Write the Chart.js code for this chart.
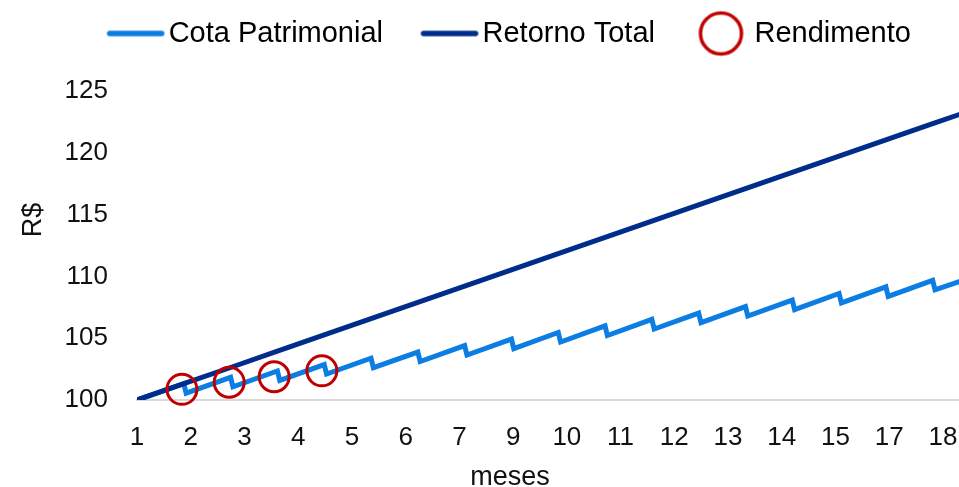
<!DOCTYPE html>
<html lang="pt-BR">
<head>
<meta charset="utf-8">
<title>Cota Patrimonial x Retorno Total</title>
<script src="https://cdn.jsdelivr.net/npm/chart.js@4/dist/chart.umd.min.js"></script>
<style>
  html, body { margin: 0; padding: 0; background: #fff; overflow: hidden; }
  #frame { width: 959px; height: 487px; overflow: hidden; position: relative; }
  #box { width: 990px; height: 487px; position: relative; }
</style>
</head>
<body>
<div id="frame"><div id="box"><canvas id="chart"></canvas></div></div>
<script>
// ── Data ──────────────────────────────────────────────────────────────────
// x values are months since the start; tick labels come from Excel's skipped categories

const tickLabels = ["1", "2", "3", "4", "5", "6", "7", "9", "10", "11", "12", "13", "14", "15", "17", "18"];
const tickStep = 1.148; // months between two shown labels

const retornoMeses = [0, 1, 2, 3, 4, 5, 6, 7, 8, 9, 10, 11, 12, 13, 14, 15, 16, 17, 17.6];
const retornoValores = [100.00, 101.32, 102.63, 103.95, 105.26, 106.58, 107.89, 109.21, 110.52, 111.84,
                        113.15, 114.47, 115.78, 117.10, 118.41, 119.73, 121.04, 122.36, 123.14];

const cotaMeses = [0, 1, 1.05, 2, 2.05, 3, 3.05, 4, 4.05, 5, 5.05, 6, 6.05, 7, 7.05, 8, 8.05, 9, 9.05,
                   10, 10.05, 11, 11.05, 12, 12.05, 13, 13.05, 14, 14.05, 15, 15.05, 16, 16.05, 17, 17.05, 17.6];
const cotaValores = [100.00, 101.32, 100.55, 101.83, 101.07, 102.35, 101.58, 102.87, 102.10, 103.38, 102.62,
                     103.88, 103.11, 104.40, 103.64, 104.93, 104.16, 105.46, 104.69, 106.00, 105.22,
                     106.52, 105.74, 107.03, 106.26, 107.56, 106.79, 108.08, 107.31, 108.62, 107.85,
                     109.15, 108.38, 109.68, 108.91, 109.62];

const rendMeses = [0.96, 1.97, 2.93, 3.95];
const rendValores = [100.86, 101.43, 101.88, 102.36];

const COR_COTA = "#0b7de3";
const COR_RETORNO = "#002c8c";
const COR_REND = "#c00000";
const FONTE = '"Liberation Sans", Arial, sans-serif';

const pts = (xs, ys) => xs.map((x, i) => ({ x, y: ys[i] }));

// ── Legend markers (drawn off-centre so text sits close to them) ─────────

function lineMarker(color) {
  const c = document.createElement("canvas");
  c.width = 100; c.height = 8;
  const g = c.getContext("2d");
  g.strokeStyle = color;
  g.lineWidth = 5.5;
  g.lineCap = "round";
  g.beginPath();
  g.moveTo(43, 4);
  g.lineTo(95, 4);
  g.stroke();
  return c;
}

function circleMarker(color) {
  const c = document.createElement("canvas");
  c.width = 100; c.height = 48;
  const g = c.getContext("2d");
  g.strokeStyle = color;
  g.lineWidth = 3.5;
  g.beginPath();
  g.arc(68.5, 24, 20.5, 0, Math.PI * 2);
  g.stroke();
  return c;
}

const markers = [lineMarker(COR_COTA), lineMarker(COR_RETORNO), circleMarker(COR_REND)];

// ── Plugins ───────────────────────────────────────────────────────────────

const legendGap = {
  id: "legendGap",
  afterInit(chart) {
    const lg = chart.legend;
    const fit = lg.fit;
    lg.fit = function () { fit.call(this); this.height += 33; };
  },
};

const axisTitles = {
  id: "axisTitles",
  afterDraw(chart) {
    const ctx = chart.ctx;
    ctx.save();
    ctx.fillStyle = "#111";
    ctx.font = "27px " + FONTE;
    ctx.textAlign = "center";
    ctx.textBaseline = "middle";
    ctx.fillText("meses", 510, 478);
    ctx.translate(34, 220);
    ctx.rotate(-Math.PI / 2);
    ctx.fillText("R$", 0, 0);
    ctx.restore();
  },
};

// ── Chart ─────────────────────────────────────────────────────────────────

new Chart(document.getElementById("chart"), {
  type: "line",
  data: {
    datasets: [
      {
        label: "Cota Patrimonial",
        data: pts(cotaMeses, cotaValores),
        borderColor: COR_COTA,
        borderWidth: 5,
        pointRadius: 0,
        order: 2,
      },
      {
        label: "Retorno Total",
        data: pts(retornoMeses, retornoValores),
        borderColor: COR_RETORNO,
        borderWidth: 5,
        pointRadius: 0,
        order: 1,
      },
      {
        label: "Rendimento",
        data: pts(rendMeses, rendValores),
        showLine: false,
        borderColor: COR_REND,
        backgroundColor: "rgba(0,0,0,0)",
        pointRadius: 15,
        pointBorderWidth: 3,
        clip: false,
        order: 0,
      },
    ],
  },
  options: {
    responsive: true,
    maintainAspectRatio: false,
    animation: false,
    layout: { padding: { top: 9, left: 0, right: 0, bottom: 0 } },
    plugins: {
      tooltip: { enabled: false },
      legend: {
        position: "top",
        labels: {
          usePointStyle: true,
          pointStyleWidth: 75,
          padding: 10,
          color: "#111",
          font: { family: FONTE, size: 29 },
          generateLabels: (chart) => chart.data.datasets.map((ds, i) => ({
            text: ds.label,
            datasetIndex: i,
            pointStyle: markers[i],
            fillStyle: "rgba(0,0,0,0)",
            strokeStyle: "rgba(0,0,0,0)",
            lineWidth: 0,
            hidden: false,
          })),
        },
      },
    },
    scales: {
      x: {
        type: "linear",
        min: 0,
        max: 17.84,
        grid: { display: false, drawTicks: false },
        border: { display: true, color: "#d9d9d9", width: 2 },
        afterBuildTicks: (scale) => {
          scale.ticks = tickLabels.map((_, i) => ({ value: i * tickStep }));
        },
        afterFit: (scale) => { scale.height = 87; },
        ticks: {
          autoSkip: false,
          maxRotation: 0,
          padding: 22,
          color: "#111",
          font: { family: FONTE, size: 26 },
          callback: (v, i) => tickLabels[i],
        },
      },
      y: {
        min: 100,
        max: 125,
        grid: { display: false, drawTicks: false },
        border: { display: false },
        afterFit: (scale) => { scale.width = 137; },
        ticks: {
          stepSize: 5,
          padding: 29,
          color: "#111",
          font: { family: FONTE, size: 26 },
        },
      },
    },
  },
  plugins: [legendGap, axisTitles],
});
</script>
</body>
</html>
